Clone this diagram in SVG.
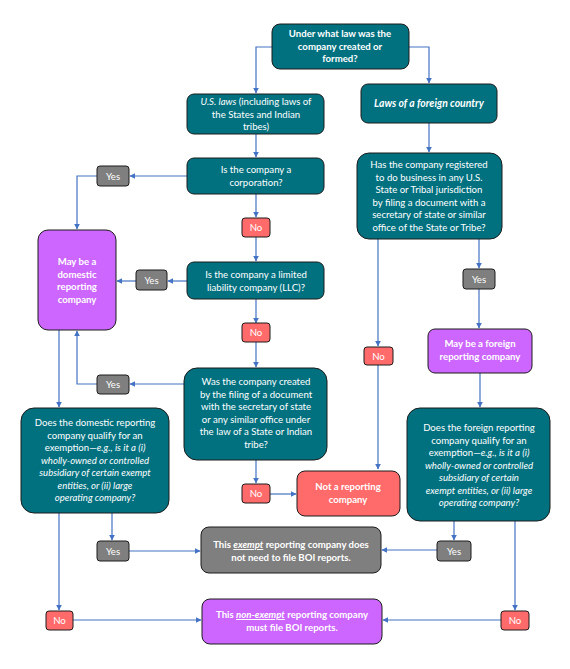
<svg xmlns="http://www.w3.org/2000/svg" width="570" height="669" viewBox="0 0 570 669">
<defs>
<marker id="ah" viewBox="0 0 10 10" refX="9" refY="5" markerWidth="6" markerHeight="6" orient="auto" markerUnits="userSpaceOnUse">
<path d="M0,0 L10,5 L0,10 z" fill="#4472C4"/>
</marker>
<style>
.teal{fill:#02717F;stroke:#1c1c1c;stroke-width:1}
.purple{fill:#CC66FF;stroke:#1c1c1c;stroke-width:1}
.red{fill:#FF6B6B;stroke:#1c1c1c;stroke-width:1}
.gray{fill:#7F7F7F;stroke:#1c1c1c;stroke-width:1}
text{font-family:Lato,"Liberation Sans",sans-serif;font-size:9.6px;fill:#ffffff;text-anchor:middle}
.b{font-weight:bold}
.i{font-style:italic}
.c path{fill:none;stroke:#4472C4;stroke-width:1.2}
.c path.a{marker-end:url(#ah)}
</style>
</defs>
<rect width="570" height="669" fill="#ffffff"/>

<g class="c" id="connectors">
<path class="a" d="M272,47 H256 V93"/>
<path class="a" d="M409,47 H429 V83"/>
<path class="a" d="M429,123 V152"/>
<path class="a" d="M256,134 V157"/>
<path class="a" d="M187,176 H130"/>
<path class="a" d="M97,176 H77 V229"/>
<path class="a" d="M256,194 V217"/>
<path class="a" d="M256,237 V261"/>
<path class="a" d="M187,281 H168"/>
<path class="a" d="M136,281 H117"/>
<path class="a" d="M256,299 V323"/>
<path class="a" d="M256,342 V367"/>
<path class="a" d="M184,384 H130"/>
<path class="a" d="M97,384 H77 V331"/>
<path class="a" d="M59,330 V407"/>
<path class="a" d="M378,239 V346"/>
<path class="a" d="M378,365 V469"/>
<path class="a" d="M479,239 V268"/>
<path class="a" d="M479,289 V328"/>
<path class="a" d="M480,373 V407"/>
<path class="a" d="M256,460 V483"/>
<path class="a" d="M270,494 H296"/>
<path class="a" d="M112,513 V540"/>
<path class="a" d="M129,551 H200"/>
<path class="a" d="M454,521 V540"/>
<path class="a" d="M437,550 H382"/>
<path class="a" d="M59,513 V610"/>
<path class="a" d="M73,620 H201"/>
<path class="a" d="M515,521 V610"/>
<path class="a" d="M501,620 H383"/>
</g>

<g id="q-law">
<rect class="teal" x="272" y="24" width="137" height="45" rx="8"/>
<text class="b" x="340" y="37">Under what law was the</text>
<text class="b" x="340" y="50">company created or</text>
<text class="b" x="340" y="62">formed?</text>
</g>

<g id="us-laws">
<rect class="teal" x="187" y="94" width="137" height="40" rx="7"/>
<text x="256" y="105"><tspan class="i">U.S. laws</tspan> (including laws of</text>
<text x="256" y="118">the States and Indian</text>
<text x="256" y="130">tribes)</text>
</g>

<g id="foreign-laws">
<rect class="teal" x="361" y="84" width="136" height="39" rx="7"/>
<text class="b i" x="429" y="107" style="font-size:10.4px">Laws of a foreign country</text>
</g>

<g id="q-corp">
<rect class="teal" x="187" y="158" width="137" height="36" rx="7"/>
<text x="256" y="173">Is the company a</text>
<text x="256" y="186">corporation?</text>
</g>

<g id="yes-corp">
<rect class="gray" x="97" y="166" width="32" height="20" rx="3"/>
<text x="113" y="179.5">Yes</text>
</g>

<g id="no-corp">
<rect class="red" x="242" y="218" width="28" height="19" rx="3"/>
<text x="256" y="231">No</text>
</g>

<g id="domestic-maybe">
<rect class="purple" x="38" y="230" width="78" height="100" rx="10"/>
<text class="b" x="77" y="265">May be a</text>
<text class="b" x="77" y="277.5">domestic</text>
<text class="b" x="77" y="290">reporting</text>
<text class="b" x="77" y="302.5">company</text>
</g>

<g id="q-llc">
<rect class="teal" x="187" y="262" width="137" height="37" rx="7"/>
<text x="256" y="278">Is the company a limited</text>
<text x="256" y="291">liability company (LLC)?</text>
</g>

<g id="yes-llc">
<rect class="gray" x="136" y="270" width="31" height="20" rx="3"/>
<text x="151.5" y="283.5">Yes</text>
</g>

<g id="no-llc">
<rect class="red" x="242" y="323" width="28" height="19" rx="3"/>
<text x="256" y="336">No</text>
</g>

<g id="q-created">
<rect class="teal" x="184" y="368" width="143" height="92" rx="13"/>
<text x="256" y="385">Was the company created</text>
<text x="256" y="397.5">by the filing of a document</text>
<text x="256" y="410">with the secretary of state</text>
<text x="256" y="422.5">or any similar office under</text>
<text x="256" y="435">the law of a State or Indian</text>
<text x="256" y="447.5">tribe?</text>
</g>

<g id="yes-created">
<rect class="gray" x="97" y="375" width="32" height="19" rx="3"/>
<text x="113" y="388">Yes</text>
</g>

<g id="q-domestic-exempt">
<rect class="teal" x="21" y="408" width="148" height="105" rx="13"/>
<text x="95" y="426">Does the domestic reporting</text>
<text x="95" y="438.5">company qualify for an</text>
<text x="95" y="451">exemption—<tspan class="i">e.g., is it a (i)</tspan></text>
<text class="i" x="95" y="463.5">wholly-owned or controlled</text>
<text class="i" x="95" y="476">subsidiary of certain exempt</text>
<text class="i" x="95" y="488.5">entities, or (ii) large</text>
<text class="i" x="95" y="501">operating company?</text>
</g>

<g id="q-registered">
<rect class="teal" x="357" y="153" width="145" height="86" rx="12"/>
<text x="429" y="168">Has the company registered</text>
<text x="429" y="180.5">to do business in any U.S.</text>
<text x="429" y="193">State or Tribal jurisdiction</text>
<text x="429" y="205.5">by filing a document with a</text>
<text x="429" y="218">secretary of state or similar</text>
<text x="429" y="230.5">office of the State or Tribe?</text>
</g>

<g id="no-registered">
<rect class="red" x="364" y="347" width="29" height="18" rx="3"/>
<text x="378.5" y="359.5">No</text>
</g>

<g id="yes-registered">
<rect class="gray" x="463" y="269" width="32" height="20" rx="3"/>
<text x="479" y="282.5">Yes</text>
</g>

<g id="foreign-maybe">
<rect class="purple" x="428" y="329" width="104" height="44" rx="7"/>
<text class="b" x="480" y="347">May be a foreign</text>
<text class="b" x="480" y="360">reporting company</text>
</g>

<g id="q-foreign-exempt">
<rect class="teal" x="407" y="408" width="143" height="113" rx="13"/>
<text x="479" y="431">Does the foreign reporting</text>
<text x="479" y="443.5">company qualify for an</text>
<text x="479" y="456">exemption—<tspan class="i">e.g., is it a (i)</tspan></text>
<text class="i" x="479" y="468.5">wholly-owned or controlled</text>
<text class="i" x="479" y="481">subsidiary of certain</text>
<text class="i" x="479" y="493.5">exempt entities, or (ii) large</text>
<text class="i" x="479" y="506">operating company?</text>
</g>

<g id="no-created">
<rect class="red" x="242" y="484" width="28" height="19" rx="3"/>
<text x="256" y="497">No</text>
</g>

<g id="not-reporting">
<rect class="red" x="297" y="471" width="103" height="45" rx="8"/>
<text class="b" x="348" y="490">Not a reporting</text>
<text class="b" x="348" y="503">company</text>
</g>

<g id="yes-domestic">
<rect class="gray" x="97" y="541" width="32" height="20" rx="3"/>
<text x="113" y="554.5">Yes</text>
</g>

<g id="exempt">
<rect class="gray" x="201" y="527" width="180" height="46" rx="8"/>
<text class="b" x="291" y="548">This <tspan class="i" text-decoration="underline">exempt</tspan> reporting company does</text>
<text class="b" x="291" y="561">not need to file BOI reports.</text>
</g>

<g id="yes-foreign">
<rect class="gray" x="437" y="541" width="34" height="20" rx="3"/>
<text x="454" y="554.5">Yes</text>
</g>

<g id="no-domestic">
<rect class="red" x="46" y="611" width="27" height="19" rx="3"/>
<text x="59.5" y="624">No</text>
</g>

<g id="non-exempt">
<rect class="purple" x="202" y="599" width="180" height="45" rx="8"/>
<text class="b" x="292" y="618">This <tspan class="i" text-decoration="underline">non-exempt</tspan> reporting company</text>
<text class="b" x="292" y="631">must file BOI reports.</text>
</g>

<g id="no-foreign">
<rect class="red" x="501" y="611" width="28" height="19" rx="3"/>
<text x="515" y="624">No</text>
</g>
</svg>
